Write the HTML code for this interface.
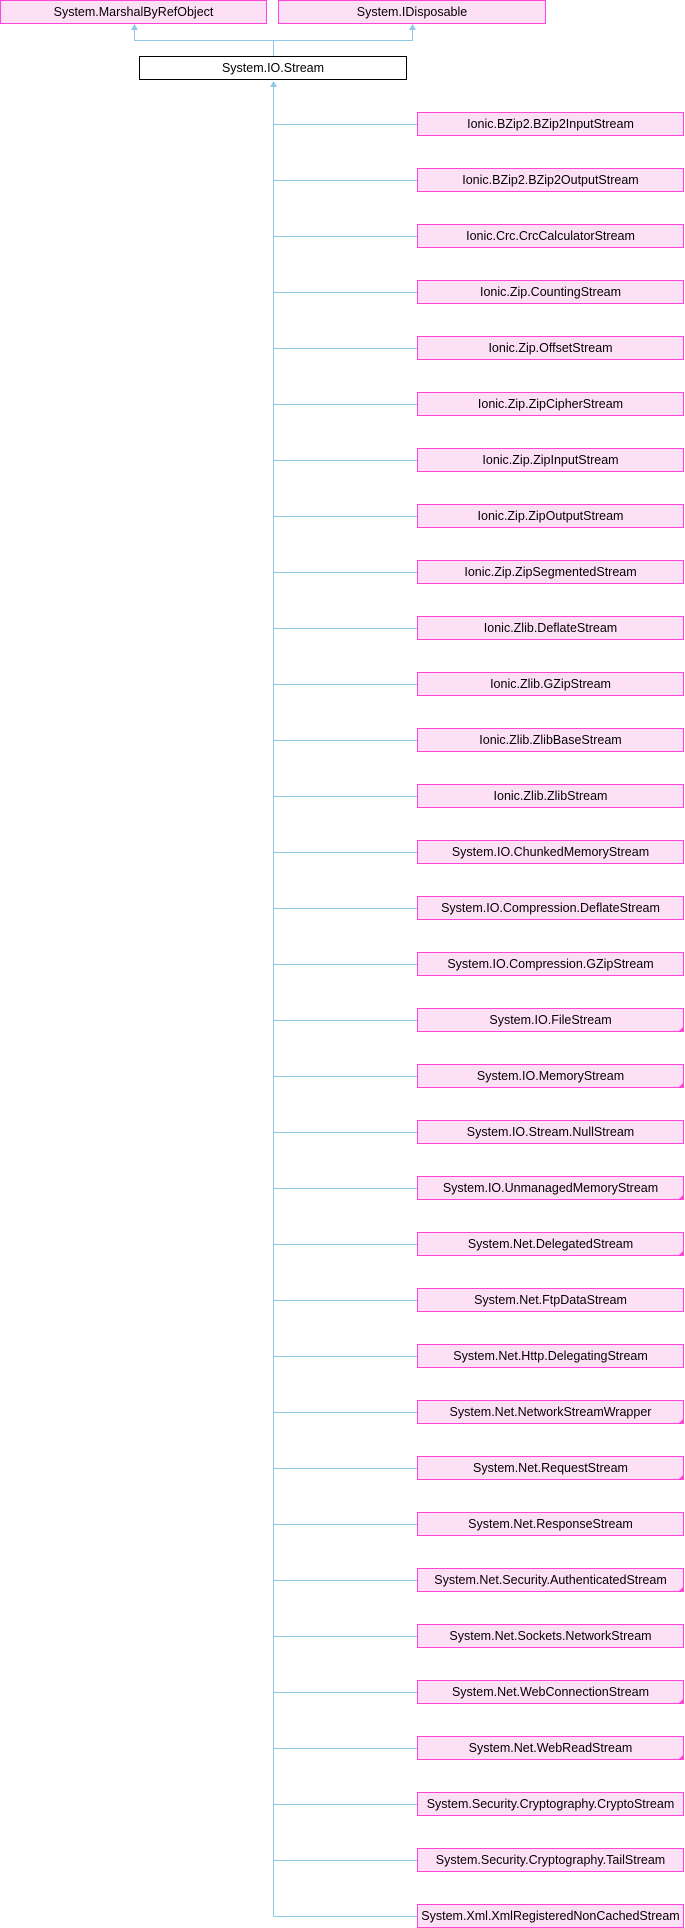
<!DOCTYPE html>
<html><head><meta charset="utf-8"><style>html,body{margin:0;padding:0;background:#fff}svg{display:block}text{font-family:"Liberation Sans",Arial,sans-serif;font-size:12.5px;fill:#000}</style></head><body>
<svg width="685" height="1928" xmlns="http://www.w3.org/2000/svg">
<g stroke="#8ecae8" stroke-width="1" fill="none">
<line x1="273.5" y1="40.5" x2="273.5" y2="56"/>
<polyline points="134.5,27 134.5,40.5 412.5,40.5 412.5,27"/>
<line x1="273.5" y1="86" x2="273.5" y2="1916"/>
</g>
<g fill="#8ecae8">
<polygon points="134.5,24 131,30 138,30"/>
<polygon points="412.5,24 409,30 416,30"/>
<polygon points="273.5,81 270,87 277,87"/>
</g>
<rect x="0.5" y="0.5" width="266" height="23" fill="#fee0f6" stroke="#ff44dd"/>
<text x="133.5" y="16" text-anchor="middle">System.MarshalByRefObject</text>
<rect x="278.5" y="0.5" width="267" height="23" fill="#fee0f6" stroke="#ff44dd"/>
<text x="412" y="16" text-anchor="middle">System.IDisposable</text>
<rect x="139.5" y="56.5" width="267" height="23" fill="#fff" stroke="#000"/>
<text x="273" y="72" text-anchor="middle">System.IO.Stream</text>
<g id="kids"></g>
</svg>
<script>
var names=["Ionic.BZip2.BZip2InputStream","Ionic.BZip2.BZip2OutputStream","Ionic.Crc.CrcCalculatorStream","Ionic.Zip.CountingStream","Ionic.Zip.OffsetStream","Ionic.Zip.ZipCipherStream","Ionic.Zip.ZipInputStream","Ionic.Zip.ZipOutputStream","Ionic.Zip.ZipSegmentedStream","Ionic.Zlib.DeflateStream","Ionic.Zlib.GZipStream","Ionic.Zlib.ZlibBaseStream","Ionic.Zlib.ZlibStream","System.IO.ChunkedMemoryStream","System.IO.Compression.DeflateStream","System.IO.Compression.GZipStream","System.IO.FileStream*","System.IO.MemoryStream*","System.IO.Stream.NullStream","System.IO.UnmanagedMemoryStream*","System.Net.DelegatedStream*","System.Net.FtpDataStream","System.Net.Http.DelegatingStream","System.Net.NetworkStreamWrapper*","System.Net.RequestStream*","System.Net.ResponseStream","System.Net.Security.AuthenticatedStream*","System.Net.Sockets.NetworkStream","System.Net.WebConnectionStream*","System.Net.WebReadStream*","System.Security.Cryptography.CryptoStream","System.Security.Cryptography.TailStream","System.Xml.XmlRegisteredNonCachedStream"];
var s="";
names.forEach(function(n,i){var y=112+i*56;var tri=n.slice(-1)=="*";if(tri)n=n.slice(0,-1);
s+='<line x1="273.5" y1="'+(y+12.5)+'" x2="417" y2="'+(y+12.5)+'" stroke="#8ecae8"/>';
s+='<rect x="417.5" y="'+(y+0.5)+'" width="266" height="23" fill="#fee0f6" stroke="#ff44dd"/>';
if(tri)s+='<polygon points="684,'+(y+18)+' 684,'+(y+24)+' 678,'+(y+24)+'" fill="#ff44dd"/>';
s+='<text x="550.5" y="'+(y+16)+'" text-anchor="middle">'+n+'</text>';});
document.getElementById("kids").innerHTML=s;
</script>
</body></html>
